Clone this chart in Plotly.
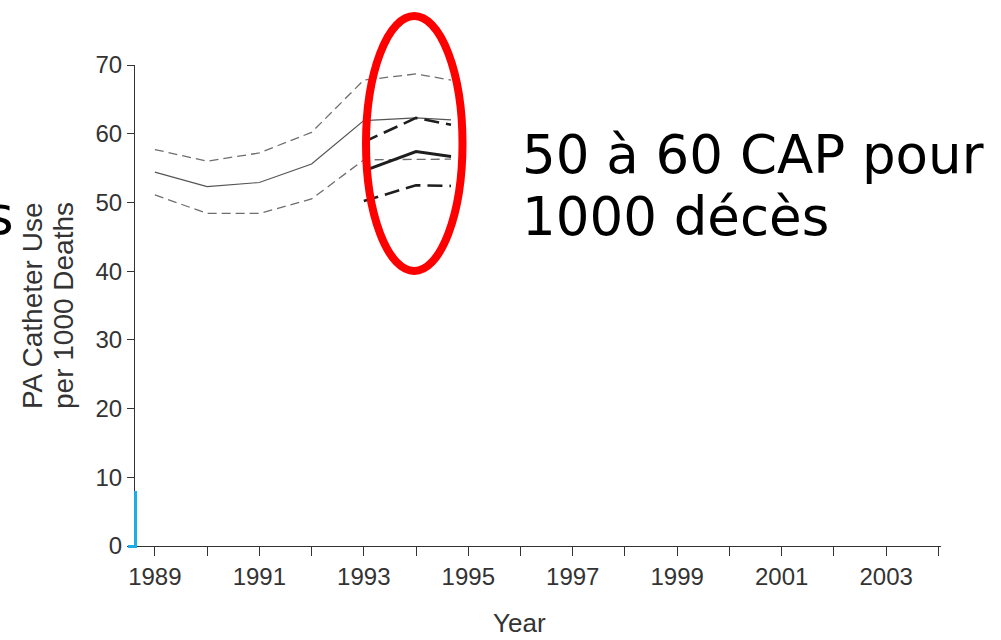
import plotly.graph_objects as go

# ---- data ----
years_main = [1989, 1990, 1991, 1992, 1993, 1994, 1994.67]
rate_overall = [54.4, 52.3, 52.9, 55.6, 61.9, 62.3, 62.0]
rate_upper = [57.7, 56.0, 57.2, 60.2, 67.8, 68.7, 67.8]
rate_lower = [51.1, 48.4, 48.4, 50.5, 56.2, 56.3, 56.3]

years_new = [1993, 1994, 1994.67]
new_rate = [54.6, 57.4, 56.7]
new_upper = [58.8, 62.3, 61.3]
new_lower = [50.2, 52.5, 52.4]

x_ticks = list(range(1989, 2005))
x_labels = [str(y) if y % 2 == 1 else "" for y in x_ticks]
y_ticks = list(range(0, 71, 10))

# ---- layout geometry (pixels) ----
W, H = 1001, 640
L, R, T, B = 135, 60, 65, 94
PW, PH = W - L - R, H - T - B


def px(xp):
    return (xp - L) / PW


def py(yp):
    return (H - B - yp) / PH


fig = go.Figure()

gray = "#6e6e6e"
dark = "#1e1e1e"

fig.add_trace(go.Scatter(x=years_main, y=rate_upper, mode="lines",
                         line=dict(color=gray, width=1.3, dash="9px,5px")))
fig.add_trace(go.Scatter(x=years_main, y=rate_lower, mode="lines",
                         line=dict(color=gray, width=1.3, dash="9px,5px")))
fig.add_trace(go.Scatter(x=years_main, y=rate_overall, mode="lines",
                         line=dict(color="#555555", width=1.2)))
fig.add_trace(go.Scatter(x=years_new, y=new_upper, mode="lines",
                         line=dict(color=dark, width=2.6, dash="15px,7px")))
fig.add_trace(go.Scatter(x=years_new, y=new_lower, mode="lines",
                         line=dict(color=dark, width=2.6, dash="15px,7px")))
fig.add_trace(go.Scatter(x=years_new, y=new_rate, mode="lines",
                         line=dict(color=dark, width=3)))

tick_font = dict(family="Liberation Sans, Arial, sans-serif", size=24, color="#333333")
title_font = dict(family="Liberation Sans, Arial, sans-serif", size=28, color="#333333")
big_font = dict(family="DejaVu Sans, Verdana, sans-serif", size=53, color="#000000")

fig.update_layout(
    width=W, height=H,
    margin=dict(l=L, r=R, t=T, b=B, autoexpand=False),
    plot_bgcolor="white", paper_bgcolor="white",
    showlegend=False,
    xaxis=dict(range=[1988.62, 2004.05], tickmode="array", tickvals=x_ticks,
               ticktext=x_labels, ticks="outside", ticklen=9, tickwidth=1,
               tickcolor="#333333", showline=True, linecolor="#333333",
               linewidth=1.2, showgrid=False, zeroline=False,
               tickfont=tick_font, automargin=False),
    yaxis=dict(range=[0, 70], tickmode="array", tickvals=y_ticks,
               ticks="outside", ticklen=7, tickwidth=1, tickcolor="#333333",
               showline=True, linecolor="#333333", linewidth=1.2,
               showgrid=False, zeroline=False, tickfont=tick_font,
               automargin=False),
)

annotations = [
    dict(text="PA Catheter Use", textangle=-90,
         x=px(32), y=py(306), xanchor="center", yanchor="middle",
         font=title_font),
    dict(text="per 1000 Deaths", textangle=-90,
         x=px(63), y=py(306), xanchor="center", yanchor="middle",
         font=title_font),
    dict(text="Year", x=px(519), y=py(623), xanchor="center",
         yanchor="middle", font=dict(tick_font, size=26)),
    dict(text="50 à 60 CAP pour", x=px(520), y=py(154.7), xanchor="left",
         yanchor="middle", font=big_font),
    dict(text="1000 décès", x=px(520), y=py(216.7), xanchor="left",
         yanchor="middle", font=big_font),
    dict(text="s", x=px(16), y=py(215), xanchor="right",
         yanchor="middle", font=big_font),
]
for a in annotations:
    a.update(xref="paper", yref="paper", showarrow=False)
fig.update_layout(annotations=annotations)

# red ellipse highlighting the new estimates
fig.add_shape(type="circle", xref="paper", yref="paper",
              x0=px(366), x1=px(462.5), y0=py(271), y1=py(16),
              line=dict(color="#ff0000", width=8), layer="above")
# small cyan mark at the origin
fig.add_shape(type="path", xref="paper", yref="paper",
              path=f"M {px(128)},{py(546.5)} L {px(135.5)},{py(546.5)} L {px(135.5)},{py(491)}",
              line=dict(color="#19aee8", width=3), layer="above")

fig.write_html("out.html")
